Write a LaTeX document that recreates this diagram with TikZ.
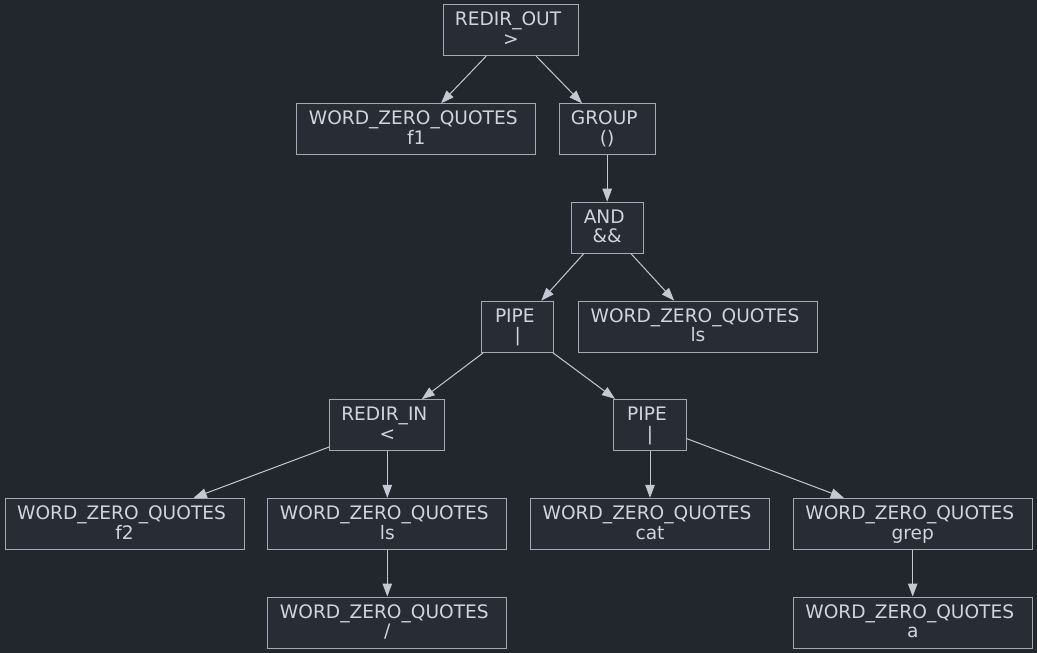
\documentclass[tikz,border=0pt]{standalone}
\usepackage{fontspec}
\setmainfont{DejaVu Sans}
\usetikzlibrary{arrows.meta}
\definecolor{bgc}{HTML}{22272E}
\definecolor{nodefill}{HTML}{272C35}
\definecolor{nodeline}{HTML}{A3AAB5}
\definecolor{txtc}{HTML}{D0D5DD}
\definecolor{edgec}{HTML}{C3C9D2}
\newcommand\twoline[2]{\vbox{\baselineskip=19.7pt\lineskiplimit=-100pt\lineskip=0pt\halign{\hfil##\hfil\cr #1\cr #2\cr}}}
\newcommand\wzq{WORD\_ZERO\_QUOTES\kern0.318em}
\begin{document}
\begin{tikzpicture}[x=1pt,y=-1pt,
  ast/.style={draw=nodeline,fill=nodefill,line width=1pt,text=txtc,
    font=\fontsize{18.6}{19.7}\selectfont,inner sep=0pt,
    minimum height=51pt,text height=30.4pt,text depth=0pt},
  wbox/.style={ast,minimum width=239pt},
  edge/.style={draw=edgec,line width=1pt,-{Triangle[length=13pt,width=9.5pt,fill=edgec]}}]
\fill[bgc] (0,0) rectangle (1037,653);
\useasboundingbox (0,0) rectangle (1037,653);
\node[ast,minimum width=135pt] (ro) at (511,30.2) {\twoline{REDIR\_OUT\kern0.318em}{>}};
\node[wbox] (f1) at (416.2,129.3) {\twoline{\wzq}{f1}};
\node[ast,minimum width=95.7pt] (grp) at (607.2,129.3) {\twoline{GROUP\kern0.318em}{()}};
\node[ast,minimum width=72.3pt] (and) at (607.2,227.7) {\twoline{AND\kern0.318em}{\&\&}};
\node[ast,minimum width=72.3pt] (p1) at (517.8,326.7) {\twoline{PIPE\kern0.318em}{|}};
\node[wbox] (ls1) at (698,326.7) {\twoline{\wzq}{ls}};
\node[ast,minimum width=115pt] (ri) at (387.3,425.2) {\twoline{REDIR\_IN\kern0.318em}{<}};
\node[ast,minimum width=72.6pt] (p2) at (650,424.8) {\twoline{PIPE\kern0.318em}{|}};
\node[wbox] (f2) at (124.5,523.8) {\twoline{\wzq}{f2}};
\node[wbox] (ls2) at (387.3,523.8) {\twoline{\wzq}{ls}};
\node[wbox] (cat) at (650,523.8) {\twoline{\wzq}{cat}};
\node[wbox] (grep) at (912.7,523.8) {\twoline{\wzq}{grep}};
\node[wbox] (sl) at (387.3,622.5) {\twoline{\wzq}{/}};
\node[wbox] (a) at (912.7,622.5) {\twoline{\wzq}{a}};
\draw[edge] (ro) -- (f1);
\draw[edge] (ro) -- (grp);
\draw[edge] (grp) -- (and);
\draw[edge] (and) -- (p1);
\draw[edge] (and) -- (ls1);
\draw[edge] (p1) -- (ri);
\draw[edge] (p1) -- (p2);
\draw[edge] (ri) -- (f2);
\draw[edge] (ri) -- (ls2);
\draw[edge] (ls2) -- (sl);
\draw[edge] (p2) -- (cat);
\draw[edge] (p2) -- (grep);
\draw[edge] (grep) -- (a);
\end{tikzpicture}
\end{document}
